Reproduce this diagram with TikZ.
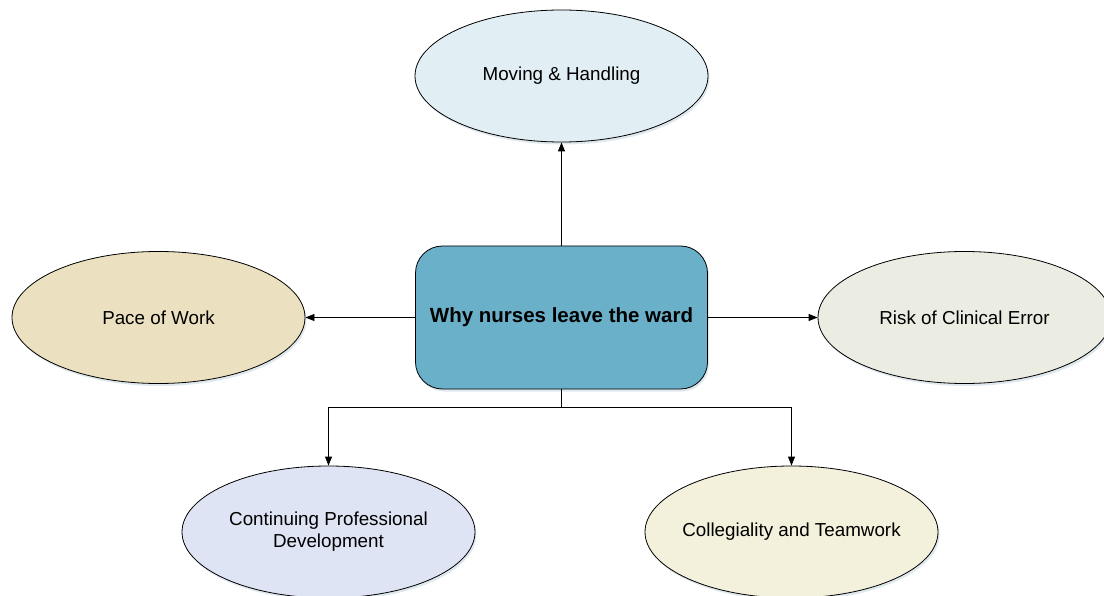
\documentclass[tikz,border=0pt]{standalone}
\usepackage{fontspec}
\setmainfont{Liberation Sans}
\usetikzlibrary{arrows.meta,shapes.geometric,shadows}
\definecolor{cCenter}{HTML}{6AB0C9}
\definecolor{cTop}{HTML}{E1EEF4}
\definecolor{cLeft}{HTML}{EBE1C0}
\definecolor{cRight}{HTML}{EBEDE3}
\definecolor{cBL}{HTML}{DFE4F4}
\definecolor{cBR}{HTML}{F3F0DC}
\definecolor{cShadow}{HTML}{B8CCD8}
\tikzset{
  oval/.style={ellipse, draw=black, line width=0.8pt, minimum width=293pt, minimum height=132pt,
    inner sep=-30pt, align=center, font=\fontsize{18.8}{22}\selectfont,
    drop shadow={shadow xshift=1.5pt, shadow yshift=-2.5pt, fill=cShadow, opacity=0.45}},
  hub/.style={rectangle, rounded corners=27pt, draw=black, line width=0.8pt, fill=cCenter,
    minimum width=292pt, minimum height=143pt, inner sep=0pt,
    font=\bfseries\fontsize{20.5}{24}\selectfont,
    drop shadow={shadow xshift=1.5pt, shadow yshift=-2.5pt, fill=cShadow, opacity=0.45}},
  arr/.style={draw=black, line width=0.8pt, -{Triangle[length=9pt,width=7pt]}}
}
\begin{document}
\begin{tikzpicture}[x=1pt,y=-1pt]
\useasboundingbox (0,0) rectangle (1104,596);
\node[hub] (hub) at (561.5,317.5) {Why nurses leave the ward};
\node[oval, fill=cTop] (top) at (561.5,76) {Moving \& Handling};
\node[oval, fill=cLeft] (left) at (158.5,317.5) {Pace of Work};
\node[oval, fill=cRight] (right) at (964.5,317.5) {Risk of Clinical Error};
\node[oval, fill=cBL] (bl) at (328.5,532) {Continuing Professional\\Development};
\node[oval, fill=cBR] (br) at (791.5,532) {Collegiality and Teamwork};
\coordinate (j) at (561.5,407);
\draw[arr] (hub.north) -- (top.south);
\draw[arr] (hub.west) -- (left.east);
\draw[arr] (hub.east) -- (right.west);
\draw[arr] (hub.south) -- (j) -| (bl.north);
\draw[arr] (j) -| (br.north);
\end{tikzpicture}
\end{document}
